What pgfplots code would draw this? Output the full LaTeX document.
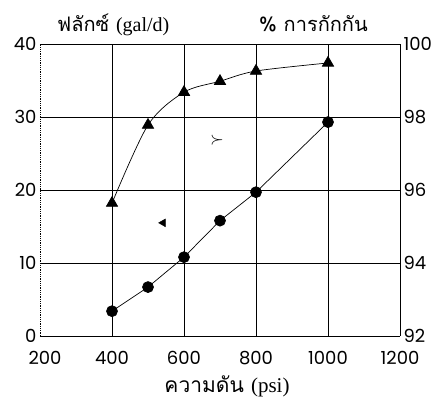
\documentclass[border=0pt]{standalone}
\usepackage{pgfplots}
\pgfplotsset{compat=1.18}
\usepackage{fontspec}
\setmainfont{Poppins}
\newfontfamily\thaifont[Script=Thai]{Loma}
\newfontfamily\serif{Liberation Serif}
\begin{document}
\begin{tikzpicture}
\useasboundingbox (-40pt,-75pt) rectangle (407pt,336pt);
\pgfplotsset{
  common/.style={
    at={(0,0)}, anchor=south west, scale only axis,
    width=360pt, height=292pt,
    xmin=200, xmax=1200,
    major tick length=0pt,
    /pgf/number format/assume math mode=true,
    tick label style={font=\fontsize{18}{18}\selectfont},
    /pgf/number format/1000 sep={},
  }
}
\begin{axis}[common,
  ymin=0, ymax=40,
  xtick={200,400,...,1200}, ytick={0,10,...,40},
  axis x line=box, axis y line=left,
  x axis line style={-, line width=0.7pt},
  y axis line style={-, densely dotted, line width=0.8pt},
  extra x ticks={400,600,800,1000}, extra x tick labels={},
  extra y ticks={10,20,30}, extra y tick labels={},
  extra tick style={grid=major, grid style={black, line width=0.6pt}},
  xticklabel shift=12pt, yticklabel shift=0pt,
  xticklabels={\hspace{10pt}200,400,600,800,1000,1200\hspace{24pt}},
  clip=false,
]
\addplot[black, line width=0.7pt, mark=*, mark size=5.5pt, mark options={fill=black}] coordinates {
 (400,3.4) (500,6.7) (600,10.8) (700,15.8) (800,19.7) (1000,29.3)};
\addplot[only marks, black, mark=triangle*, mark size=4.5pt, mark options={rotate=90}] coordinates {(542,15.5)};
\addplot[only marks, black, mark=text, text mark={\fontsize{16}{16}\selectfont$\succ$}] coordinates {(692,26.8)};
\end{axis}
\begin{axis}[common,
  ymin=92, ymax=100,
  ytick={92,94,...,100},
  axis x line=none, axis y line*=right,
  y axis line style={-, line width=0.7pt},
  clip=false,
]
\addplot[black, line width=0.7pt, smooth, mark=triangle*, mark size=6.5pt] coordinates {
 (400,95.64) (500,97.78) (600,98.68) (700,98.98) (800,99.26) (1000,99.48)};
\end{axis}
\node[anchor=base west, inner sep=0pt, font=\fontsize{20}{20}\selectfont] at (17pt,304pt) {\thaifont ฟลักซ์ {\serif (gal/d)}};
\node[anchor=base east, inner sep=0pt, font=\fontsize{20}{20}\selectfont] at (328pt,304pt) {\thaifont \% การกักกัน};
\node[anchor=base, inner sep=0pt, font=\fontsize{21}{21}\selectfont] at (187pt,-57pt) {\thaifont ความดัน {\serif (psi)}};
\end{tikzpicture}
\end{document}
